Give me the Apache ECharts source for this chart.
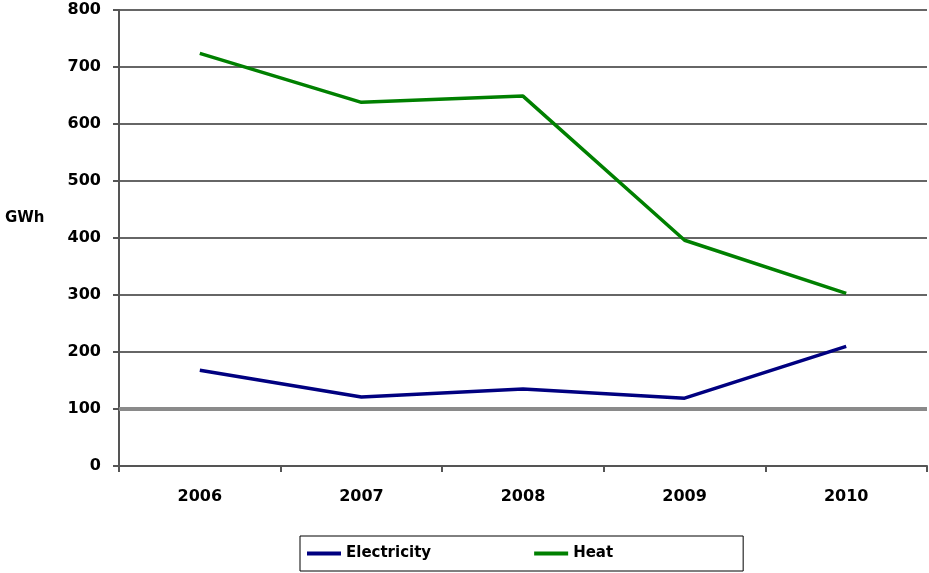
<!DOCTYPE html>
<html>
<head>
<meta charset="utf-8">
<style>
  html, body { margin: 0; padding: 0; background: #fff; }
  #chart { width: 929px; height: 573px; }
</style>
<script src="https://cdn.jsdelivr.net/npm/echarts@6/dist/echarts.min.js"></script>
</head>
<body>
<div id="chart"></div>
<script>
// Annual energy output, GWh
const years = ['2006', '2007', '2008', '2009', '2010'];
const electricity = [168, 121, 135, 119, 210];
const heat = [724, 638, 649, 396, 303];
const yTicks = { min: 0, max: 800, interval: 100 };

const FONT = '"DejaVu Sans", Verdana, sans-serif';
const chart = echarts.init(document.getElementById('chart'), null, { renderer: 'canvas' });

chart.setOption({
  animation: false,
  backgroundColor: '#ffffff',
  grid: { left: 119, right: 2, top: 10, bottom: 107, containLabel: false },
  graphic: [{
    type: 'text',
    left: 5,
    top: 211,
    style: { text: 'GWh', font: 'bold 15px ' + FONT, fill: '#000' }
  }],
  legend: {
    left: 300,
    bottom: 2,
    icon: 'rect',
    itemWidth: 34,
    itemHeight: 4,
    itemGap: 103,
    padding: [10, 130, 10, 7],
    borderColor: '#000',
    borderWidth: 1,
    textStyle: { fontFamily: FONT, fontWeight: 'bold', fontSize: 15, color: '#000' },
    data: ['Electricity', 'Heat']
  },
  xAxis: {
    type: 'category',
    data: years,
    boundaryGap: true,
    axisLine: { lineStyle: { color: '#555', width: 2 } },
    axisTick: { show: true, length: 6, inside: false, lineStyle: { color: '#555', width: 2 } },
    axisLabel: { margin: 23, fontFamily: FONT, fontWeight: 'bold', fontSize: 16, color: '#000' },
    splitLine: { show: false }
  },
  yAxis: {
    type: 'value',
    min: yTicks.min,
    max: yTicks.max,
    interval: yTicks.interval,
    axisLine: { show: true, lineStyle: { color: '#555', width: 2 } },
    axisTick: { show: true, length: 6, lineStyle: { color: '#555', width: 2 } },
    axisLabel: { margin: 18, fontFamily: FONT, fontWeight: 'bold', fontSize: 16, color: '#000' },
    splitLine: { show: true, lineStyle: { color: '#666', width: 2 } }
  },
  series: [
    {
      name: 'Electricity',
      type: 'line',
      data: electricity,
      symbol: 'none',
      lineStyle: { color: '#000080', width: 3.5 },
      itemStyle: { color: '#000080' },
      z: 3,
      markLine: {
        silent: true,
        symbol: 'none',
        label: { show: false },
        lineStyle: { color: '#8a8a8a', width: 4, type: 'solid' },
        data: [{ yAxis: 100 }],
        z: 1
      }
    },
    {
      name: 'Heat',
      type: 'line',
      data: heat,
      symbol: 'none',
      lineStyle: { color: '#008000', width: 3.5 },
      itemStyle: { color: '#008000' },
      z: 3
    }
  ]
});
</script>
</body>
</html>
